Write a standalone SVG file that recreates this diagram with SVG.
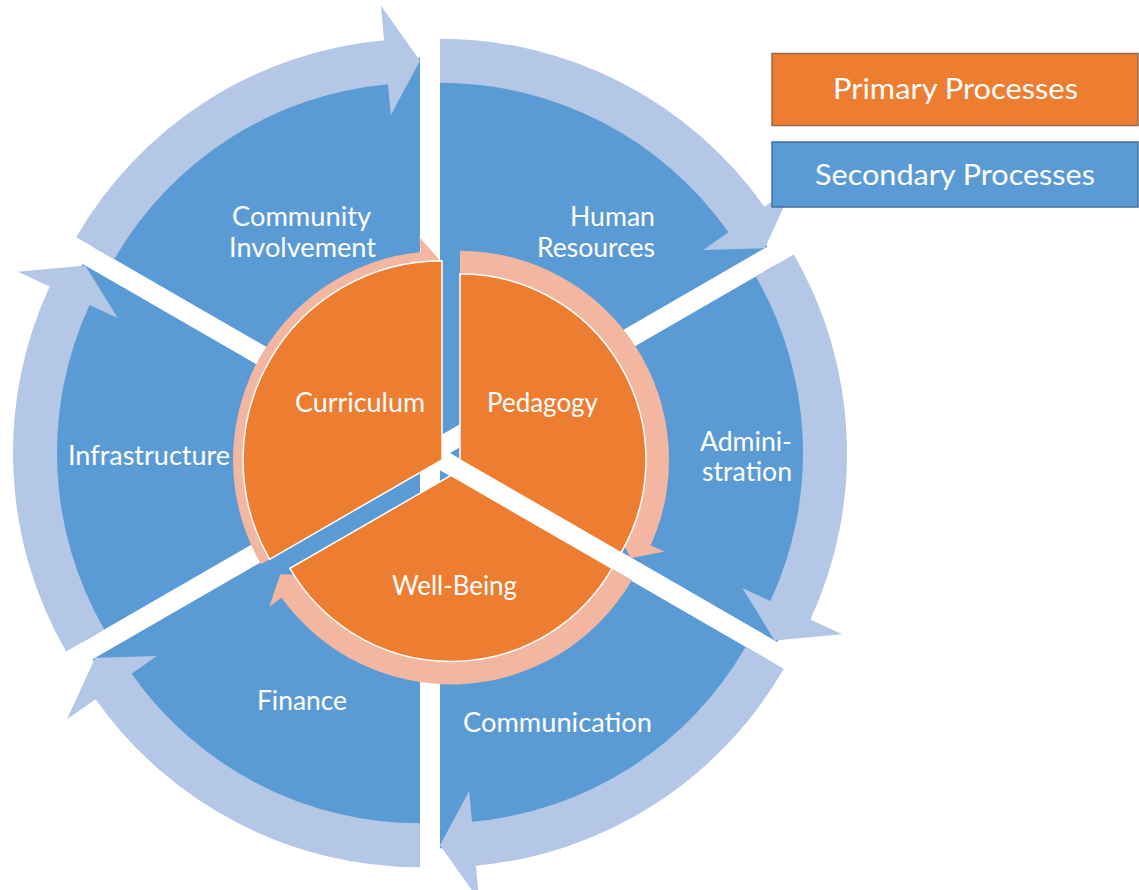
<svg xmlns="http://www.w3.org/2000/svg" xmlns:xlink="http://www.w3.org/1999/xlink" width="1139" height="890" viewBox="0 0 1139 890">
<style>
.sec{fill:#5B9BD5}
.arr{fill:#B4C7E7}
.pink{fill:#F3B6A0}
.org{fill:#ED7D31;stroke:#FFFFFF;stroke-width:1.5}
.lbl{font-family:Lato,"Open Sans","Liberation Sans",sans-serif;font-size:26px;fill:#FFFFFF;text-anchor:middle}
.leg{font-family:Lato,"Open Sans","Liberation Sans",sans-serif;font-size:29px;fill:#FFFFFF;text-anchor:middle}
</style>
<defs>
<path id="bsec" d="M0,0 L0,-378 A378,378 0 0 1 327.35,-189 Z"/>
<path id="barr" d="M0,-397 A397,397 0 0 1 324.41,-228.85 L353.01,-249.02 L324.76,-187.5 L263.12,-185.61 L288.45,-203.48 A353,353 0 0 0 0,-353 Z"/>
<path id="parr" d="M0,-209 A209,209 0 0 1 190.66,85.61 L204.35,91.75 L170.61,98.5 L156.91,70.45 L169.68,76.19 A186,186 0 0 0 0,-186 Z"/>
<path id="osec" d="M0,0 L0,-186 A186,186 0 0 1 161.08,93 Z"/>
<path id="osecL" d="M0,0 L0,-199 A199,199 0 0 1 172.34,99.5 Z"/>
</defs>
<rect width="1139" height="890" fill="#FFFFFF"/>

<g id="human-resources">
<use xlink:href="#bsec" class="sec" transform="translate(440,435.68)"/>
<text class="lbl" x="612.5" y="226" textLength="85" lengthAdjust="spacingAndGlyphs">Human</text>
<text class="lbl" x="596" y="257" textLength="118" lengthAdjust="spacingAndGlyphs">Resources</text>
</g>
<g id="administration">
<use xlink:href="#bsec" class="sec" transform="translate(450,453) rotate(60)"/>
<text class="lbl" x="746" y="451" textLength="92" lengthAdjust="spacingAndGlyphs">Admini-</text>
<text class="lbl" x="747" y="481" textLength="90" lengthAdjust="spacingAndGlyphs">stration</text>
</g>
<g id="communication">
<use xlink:href="#bsec" class="sec" transform="translate(440,470.32) rotate(120)"/>
<text class="lbl" x="557.5" y="732" textLength="189" lengthAdjust="spacingAndGlyphs">Communication</text>
</g>
<g id="finance">
<use xlink:href="#bsec" class="sec" transform="translate(420,470.32) rotate(180)"/>
<text class="lbl" x="302" y="710" textLength="90" lengthAdjust="spacingAndGlyphs">Finance</text>
</g>
<g id="infrastructure">
<use xlink:href="#bsec" class="sec" transform="translate(410,453) rotate(240)"/>
<text class="lbl" x="149" y="465" textLength="162" lengthAdjust="spacingAndGlyphs">Infrastructure</text>
</g>
<g id="community-involvement">
<use xlink:href="#bsec" class="sec" transform="translate(420,435.68) rotate(300)"/>
<text class="lbl" x="301.5" y="226" textLength="139" lengthAdjust="spacingAndGlyphs">Community</text>
<text class="lbl" x="302.5" y="257" textLength="147" lengthAdjust="spacingAndGlyphs">Involvement</text>
</g>

<g id="connectors">
<use xlink:href="#barr" class="arr" transform="translate(440,435.68)"/>
<use xlink:href="#barr" class="arr" transform="translate(450,453) rotate(60)"/>
<use xlink:href="#barr" class="arr" transform="translate(440,470.32) rotate(120)"/>
<use xlink:href="#barr" class="arr" transform="translate(420,470.32) rotate(180)"/>
<use xlink:href="#barr" class="arr" transform="translate(410,453) rotate(240)"/>
<use xlink:href="#barr" class="arr" transform="translate(420,435.68) rotate(300)"/>
<use xlink:href="#parr" class="pink" transform="translate(460,459.8)"/>
<use xlink:href="#parr" class="pink" transform="translate(451,475.4) rotate(120)"/>
<use xlink:href="#parr" class="pink" transform="translate(442,459.8) rotate(240)"/>
</g>

<g id="pedagogy">
<use xlink:href="#osec" class="org" transform="translate(460,459.8)"/>
<text class="lbl" x="542.5" y="412" textLength="111" lengthAdjust="spacingAndGlyphs">Pedagogy</text>
</g>
<g id="well-being">
<use xlink:href="#osec" class="org" transform="translate(451,475.4) rotate(120)"/>
<text class="lbl" x="454.5" y="595" textLength="125" lengthAdjust="spacingAndGlyphs">Well-Being</text>
</g>
<g id="curriculum">
<use xlink:href="#osecL" class="org" transform="translate(442,459.8) rotate(240)"/>
<text class="lbl" x="360" y="412" textLength="130" lengthAdjust="spacingAndGlyphs">Curriculum</text>
</g>

<g id="legend-primary">
<rect x="772" y="53.5" width="366" height="72" fill="#ED7D31" stroke="#9A6A50" stroke-width="1.5"/>
<text class="leg" x="955.5" y="99" textLength="245" lengthAdjust="spacingAndGlyphs">Primary Processes</text>
</g>
<g id="legend-secondary">
<rect x="772" y="142" width="366" height="65" fill="#5B9BD5" stroke="#41719C" stroke-width="1.5"/>
<text class="leg" x="955" y="185" textLength="280" lengthAdjust="spacingAndGlyphs">Secondary Processes</text>
</g>
</svg>
